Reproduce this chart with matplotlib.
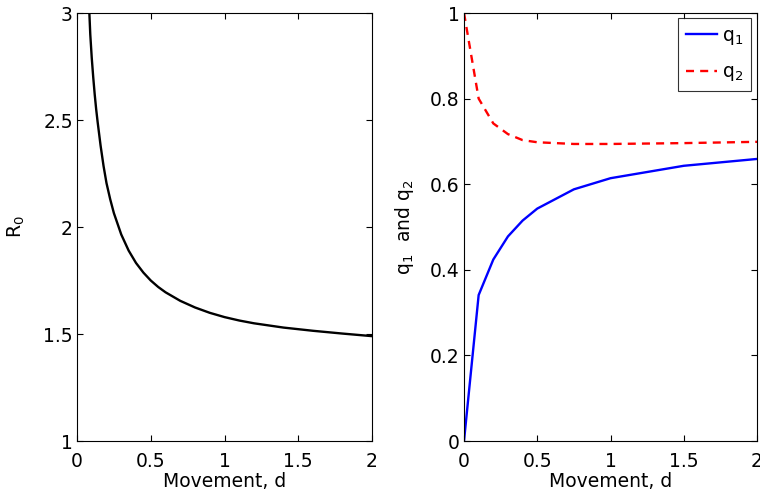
import matplotlib
matplotlib.use("Agg")
import matplotlib.pyplot as plt

plt.rcParams['font.family'] = ['DejaVu Sans']
plt.rcParams['mathtext.fontset'] = 'dejavusans'

# Basic reproduction number against movement
d_r0 = [0.07, 0.08, 0.09, 0.10, 0.11, 0.12, 0.13, 0.14, 0.16, 0.18, 0.20,
        0.225, 0.25, 0.30, 0.35, 0.40, 0.45, 0.50, 0.55, 0.60, 0.70, 0.80,
        0.90, 1.00, 1.10, 1.20, 1.40, 1.60, 1.80, 2.00]
r0 = [3.33, 3.06, 2.90, 2.79, 2.70, 2.62, 2.55, 2.49, 2.38, 2.285, 2.205,
      2.13, 2.065, 1.965, 1.89, 1.832, 1.787, 1.75, 1.72, 1.695, 1.655, 1.624,
      1.599, 1.579, 1.563, 1.550, 1.530, 1.515, 1.502, 1.490]

# Equilibrium proportions against movement
d_q = [0, 0.1, 0.2, 0.3, 0.4, 0.5, 0.75, 1.0, 1.5, 2.0]
q1 = [0.0, 0.341, 0.424, 0.478, 0.515, 0.543, 0.588, 0.614, 0.643, 0.659]
q2 = [1.0, 0.800, 0.742, 0.717, 0.703, 0.698, 0.694, 0.694, 0.696, 0.699]

x_ticks = [0, 0.5, 1, 1.5, 2]
x_tick_labels = ['0', '0.5', '1', '1.5', '2']
r0_ticks = [1, 1.5, 2, 2.5, 3]
r0_tick_labels = ['1', '1.5', '2', '2.5', '3']
q_ticks = [0, 0.2, 0.4, 0.6, 0.8, 1]
q_tick_labels = ['0', '0.2', '0.4', '0.6', '0.8', '1']

fs = 13.5
lw = 1.7
fig = plt.figure(figsize=(7.6, 4.94), dpi=100)
ax1 = fig.add_axes([77 / 760, 1 - 441 / 494, 295 / 760, 428 / 494])
ax2 = fig.add_axes([464 / 760, 1 - 441 / 494, 293 / 760, 428 / 494])


def style(ax):
    for s in ax.spines.values():
        s.set_linewidth(0.8)
    ax.tick_params(direction='in', length=4, width=0.8, top=True, right=True,
                   labelsize=fs)
    ax.tick_params(axis='x', pad=8)
    ax.tick_params(axis='y', pad=3)


ax1.plot(d_r0, r0, color='black', lw=lw)
ax1.set_xlim(0, 2)
ax1.set_ylim(1, 3)
ax1.set_xticks(x_ticks, x_tick_labels)
ax1.set_yticks(r0_ticks, r0_tick_labels)
ax1.set_xlabel('Movement, d', fontsize=fs, labelpad=0.5)
ax1.set_ylabel(r'$\mathregular{R_0}$', fontsize=fs, labelpad=12)
style(ax1)

ax2.plot(d_q, q1, color='#0000ff', lw=lw, label=r'$\mathregular{q_1}$')
ax2.plot(d_q, q2, color='#ff0000', lw=lw, ls=(0, (3.4, 2.6)),
         label=r'$\mathregular{q_2}$')
ax2.set_xlim(0, 2)
ax2.set_ylim(0, 1)
ax2.set_xticks(x_ticks, x_tick_labels)
ax2.set_yticks(q_ticks, q_tick_labels)
ax2.set_xlabel('Movement, d', fontsize=fs, labelpad=0.5)
ax2.set_ylabel(r'$\mathregular{q_1\ \ and\ q_2}$', fontsize=fs, labelpad=10)
style(ax2)

leg = ax2.legend(loc='upper right', bbox_to_anchor=(0.992, 0.997), fontsize=fs,
                 frameon=True, fancybox=False, edgecolor='black',
                 handlelength=1.65, handletextpad=0.3, borderpad=0.4,
                 labelspacing=0.85, borderaxespad=0.2)
leg.get_frame().set_linewidth(0.8)

fig.savefig('out.png', dpi=100)
